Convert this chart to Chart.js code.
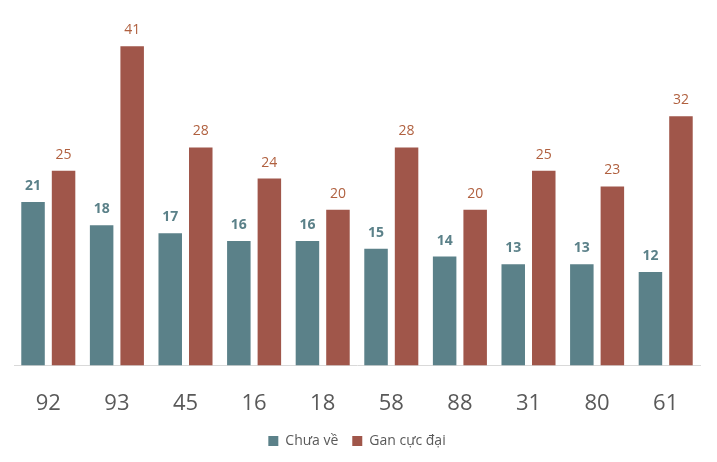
<!DOCTYPE html>
<html>
<head>
<meta charset="utf-8">
<script src="https://cdn.jsdelivr.net/npm/chart.js@4.4.1/dist/chart.umd.min.js"></script>
<style>
  html, body { margin: 0; padding: 0; background: #fff; }
  #wrap { width: 717px; height: 462px; }
</style>
</head>
<body>
<div id="wrap"><canvas id="ganChart"></canvas></div>
<script>
// data
var categories = ['92', '93', '45', '16', '18', '58', '88', '31', '80', '61'];
var chuaVe = [21, 18, 17, 16, 16, 15, 14, 13, 13, 12];
var ganCucDai = [25, 41, 28, 24, 20, 28, 20, 25, 23, 32];

var tealColor = '#5b8189';
var redColor = '#a0564a';

// draws the value above each bar
var valueLabels = {
  id: 'valueLabels',
  afterDatasetsDraw: function(chart) {
    var ctx = chart.ctx;
    chart.data.datasets.forEach(function(ds, i) {
      var meta = chart.getDatasetMeta(i);
      ctx.save();
      ctx.fillStyle = i === 0 ? '#5b8189' : '#b0603f';
      ctx.font = (i === 0 ? 'bold ' : '') + '14px "Open Sans", sans-serif';
      ctx.textAlign = 'center';
      ctx.textBaseline = 'middle';
      meta.data.forEach(function(bar, j) {
        ctx.fillText(ds.data[j], bar.x, bar.y - 16);
      });
      ctx.restore();
    });
  }
};

var ganChart = new Chart(document.getElementById('ganChart'), {
  type: 'bar',
  data: {
    labels: categories,
    datasets: [{
      label: 'Chưa về',
      data: chuaVe,
      backgroundColor: tealColor
    }, {
      label: 'Gan cực đại',
      data: ganCucDai,
      backgroundColor: redColor
    }]
  },
  options: {
    responsive: true,
    maintainAspectRatio: false,
    animation: false,
    categoryPercentage: 0.89,
    barPercentage: 0.77,
    layout: {
      padding: { left: 14, right: 17, top: 15, bottom: 4 }
    },
    plugins: {
      legend: {
        position: 'bottom',
        labels: {
          boxWidth: 10,
          boxHeight: 10,
          color: '#595959',
          padding: 14,
          font: { family: '"Open Sans", sans-serif', size: 14 }
        }
      },
      tooltip: { enabled: false }
    },
    scales: {
      x: {
        grid: { display: false },
        border: { display: true, color: '#d9d9d9', width: 1 },
        ticks: {
          color: '#595959',
          padding: 17,
          font: { family: '"Open Sans", sans-serif', size: 22 }
        },
        // let the tick labels reach into the legend gap
        afterFit: function(scale) {
          scale.height -= 14;
        }
      },
      y: {
        display: false,
        min: 0,
        max: 45
      }
    }
  },
  plugins: [valueLabels]
});
</script>
</body>
</html>
